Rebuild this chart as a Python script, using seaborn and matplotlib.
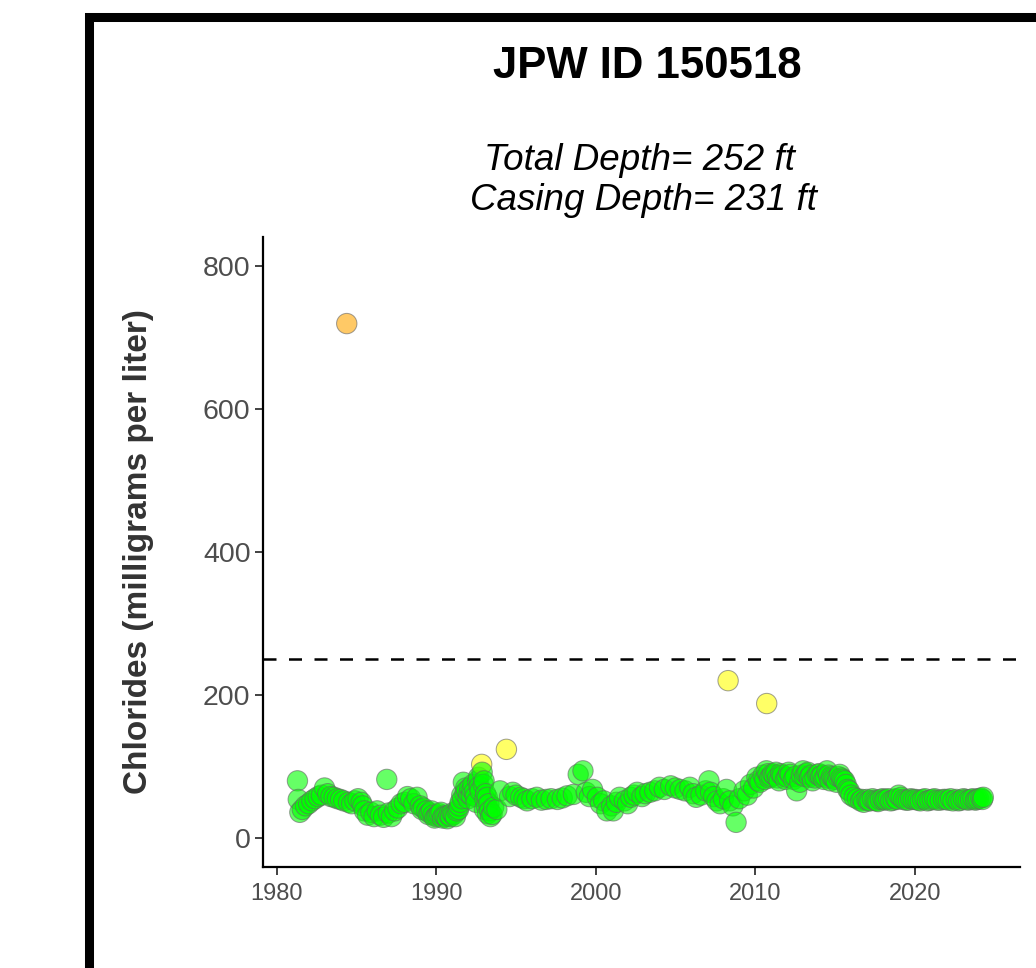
import seaborn as sns
import matplotlib.pyplot as plt
import matplotlib.patches as mpatches
import pandas as pd

# sample dates (decimal years) and chloride results
years = [
    1981.3, 1981.35, 1981.45, 1981.6, 1981.8, 1982.0, 1982.2, 1982.4, 1982.6, 1982.8,
    1983.0, 1983.2, 1983.4, 1983.6, 1983.8, 1984.0, 1984.2, 1984.39, 1984.5, 1984.7,
    1984.9, 1985.1, 1985.3, 1985.4, 1985.5, 1985.7, 1985.9, 1986.1, 1986.3, 1986.5,
    1986.7, 1986.9, 1987.0, 1987.2, 1987.4, 1987.6, 1987.8, 1988.0, 1988.2, 1988.4,
    1988.6, 1988.8, 1989.0, 1989.2, 1989.4, 1989.6, 1989.8, 1990.0, 1990.2, 1990.4,
    1990.6, 1990.8, 1991.0, 1991.2, 1991.4, 1991.5, 1991.6, 1991.7, 1991.8, 1991.9,
    1992.0, 1992.1, 1992.2, 1992.3, 1992.4, 1992.5, 1992.6, 1992.7, 1992.85, 1992.88,
    1993.0, 1993.02, 1993.1, 1993.2, 1993.22, 1993.3, 1993.4, 1993.6, 1993.8, 1994.0,
    1994.4, 1994.6, 1994.8, 1995.0, 1995.3, 1995.5, 1995.7, 1996.0, 1996.3, 1996.6,
    1996.9, 1997.2, 1997.6, 1997.9, 1998.2, 1998.6, 1998.9, 1999.2, 1999.4, 1999.6,
    1999.8, 2000.1, 2000.3, 2000.5, 2000.7, 2001.0, 2001.1, 2001.3, 2001.5, 2001.8,
    2002.0, 2002.2, 2002.4, 2002.6, 2002.9, 2003.1, 2003.4, 2003.7, 2004.0, 2004.3,
    2004.7, 2005.0, 2005.3, 2005.6, 2005.9, 2006.1, 2006.3, 2006.6, 2006.9, 2007.1,
    2007.2, 2007.4, 2007.6, 2007.8, 2008.0, 2008.2, 2008.3, 2008.4, 2008.6, 2008.8,
    2009.0, 2009.3, 2009.5, 2009.7, 2009.9, 2010.1, 2010.3, 2010.5, 2010.7, 2010.72,
    2010.9, 2011.1, 2011.3, 2011.5, 2011.7, 2012.0, 2012.2, 2012.4, 2012.6, 2012.8,
    2013.0, 2013.2, 2013.4, 2013.6, 2013.9, 2014.1, 2014.3, 2014.5, 2014.7, 2014.9,
    2015.1, 2015.3, 2015.5, 2015.7, 2015.8, 2015.9, 2016.0, 2016.2, 2016.4, 2016.6,
    2016.8, 2017.0, 2017.2, 2017.5, 2017.7, 2018.0, 2018.2, 2018.5, 2018.8, 2019.0,
    2019.3, 2019.6, 2019.9, 2020.2, 2020.5, 2020.8, 2021.1, 2021.4, 2021.8, 2022.1,
    2022.4, 2022.6, 2022.9, 2023.2, 2023.5, 2023.8, 2024.0, 2024.3,
    # extra samples in the dense stretches
    1989.1, 1989.5, 1989.7, 1989.9, 1990.1, 1990.3, 1990.5, 1990.7, 1990.9, 1991.1,
    1991.3, 1991.45, 1991.65, 1991.85, 1992.05, 1992.25, 1992.45, 1992.65, 1992.75, 1992.95,
    1993.05, 1993.15, 1993.35, 1993.5,
    2010.2, 2010.6, 2010.8, 2011.0, 2011.2, 2011.4, 2011.6, 2011.9, 2012.1, 2012.5,
    2012.9, 2013.1, 2013.3, 2013.5, 2013.75, 2014.0, 2014.2, 2014.4, 2014.6, 2014.8,
    2015.0, 2015.2, 2015.4, 2015.6,
    2016.7, 2017.1, 2017.35, 2017.6, 2017.85, 2018.1, 2018.35, 2018.65, 2018.9, 2019.15,
    2019.45, 2019.75, 2020.05, 2020.35, 2020.65, 2020.95, 2021.25, 2021.6, 2021.95, 2022.25,
    2022.75, 2023.05, 2023.35, 2023.65, 2023.9, 2024.15, 2024.25,
]
chlorides = [
    80, 54, 36, 40, 45, 48, 52, 55, 58, 60,
    70, 62, 58, 57, 55, 54, 52, 719, 50, 48,
    52, 55, 50, 45, 38, 32, 36, 30, 38, 32,
    29, 82, 35, 30, 38, 42, 48, 50, 58, 55,
    48, 57, 45, 42, 38, 35, 32, 30, 34, 28,
    30, 32, 35, 30, 40, 50, 60, 78, 62, 66,
    55, 70, 60, 75, 65, 50, 80, 72, 103, 92,
    80, 40, 62, 57, 34, 48, 30, 43, 40, 66,
    124, 58, 64, 60, 57, 55, 52, 55, 57, 53,
    54, 55, 54, 56, 59, 61, 89, 94, 64, 58,
    68, 57, 48, 52, 38, 45, 38, 50, 57, 52,
    48, 57, 60, 64, 58, 62, 64, 66, 71, 68,
    73, 70, 68, 66, 71, 62, 57, 60, 66, 80,
    64, 58, 52, 48, 55, 68, 220, 52, 45, 22,
    55, 66, 60, 75, 70, 85, 78, 88, 94, 188,
    84, 90, 92, 80, 88, 85, 89, 82, 66, 78,
    94, 90, 85, 80, 89, 86, 82, 94, 80, 84,
    78, 89, 82, 75, 68, 66, 60, 57, 55, 52,
    50, 54, 52, 53, 51, 55, 54, 52, 55, 60,
    54, 53, 54, 53, 54, 52, 54, 53, 54, 53,
    52, 54, 53, 54, 54, 53, 55, 57,
    40, 33, 38, 28, 32, 36, 31, 27, 30, 33,
    38, 45, 55, 70, 62, 68, 58, 85, 66, 75,
    55, 45, 38, 33,
    80, 82, 90, 86, 88, 84, 90, 82, 92, 86,
    88, 86, 92, 88, 84, 90, 88, 85, 88, 86,
    82, 86, 84, 80,
    54, 52, 55, 52, 54, 53, 55, 53, 54, 57,
    53, 55, 54, 52, 55, 53, 55, 53, 54, 55,
    52, 55, 53, 55, 54, 56, 54,
]

x_ticks = [1980, 1990, 2000, 2010, 2020]
y_ticks = [0, 200, 400, 600, 800]
limit_mg = 250

title = "JPW ID 150518"
subtitle = ["Total Depth= 252 ft", "Casing Depth= 231 ft"]
ylabel = "Chlorides (milligrams per liter)"

df = pd.DataFrame({"year": years, "chloride": chlorides}).sort_values("year")
df["level"] = pd.cut(df["chloride"], [-1, 100, 250, 10000], labels=["low", "mid", "high"])
palette = {"low": "#00FF00", "mid": "#FFFF00", "high": "#FFA500"}

sns.set_style("ticks")
plt.rcParams["font.family"] = ["Liberation Sans", "DejaVu Sans"]

fig = plt.figure(figsize=(10.36, 9.68), dpi=100)
ax = fig.add_axes([263 / 1036, 1 - 866.7 / 968, 757 / 1036, 629.7 / 968])

sns.scatterplot(data=df, x="year", y="chloride", hue="level", palette=palette,
                s=215, alpha=0.6, edgecolor="#666666", linewidth=0.75,
                legend=False, ax=ax, zorder=3)
ax.axhline(limit_mg, color="black", linestyle=(0, (5.2, 5.0)), linewidth=1.8, zorder=2)

ax.set_xlim(1979.14, 2026.6)
ax.set_ylim(-40, 840)
ax.set_xticks(x_ticks)
ax.set_yticks(y_ticks)
ax.set_xlabel("")
ax.set_ylabel("")
sns.despine(ax=ax)
for side in ["left", "bottom"]:
    ax.spines[side].set_linewidth(1.6)
    ax.spines[side].set_color("black")
ax.tick_params(axis="both", length=5.5, width=1.3, color="#333333", labelcolor="#4D4D4D")
ax.tick_params(axis="y", labelsize=20.5, pad=3.5)
ax.tick_params(axis="x", labelsize=17, pad=6)

fig.text(647 / 1036, 1 - 78 / 968, title, ha="center", va="baseline",
         fontsize=31.5, fontweight="bold", color="black")
fig.text(640 / 1036, 1 - 170 / 968, subtitle[0], ha="center", va="baseline",
         fontsize=26.5, fontstyle="italic", color="black")
fig.text(644 / 1036, 1 - 210 / 968, subtitle[1], ha="center", va="baseline",
         fontsize=26.5, fontstyle="italic", color="black")
fig.text(139 / 1036, 1 - 552 / 968, ylabel, rotation=90, ha="center", va="center",
         fontsize=24, fontweight="bold", color="#333333")

# thick panel border, only its top-left corner shows in the crop
border = mpatches.Rectangle((88.5 / 1036, -0.5), 2, 0.5 + 1 - 16.5 / 968,
                            transform=fig.transFigure, fill=False,
                            edgecolor="black", linewidth=6.5, clip_on=False)
fig.patches.append(border)

fig.savefig("out.png", dpi=100, facecolor="white")
